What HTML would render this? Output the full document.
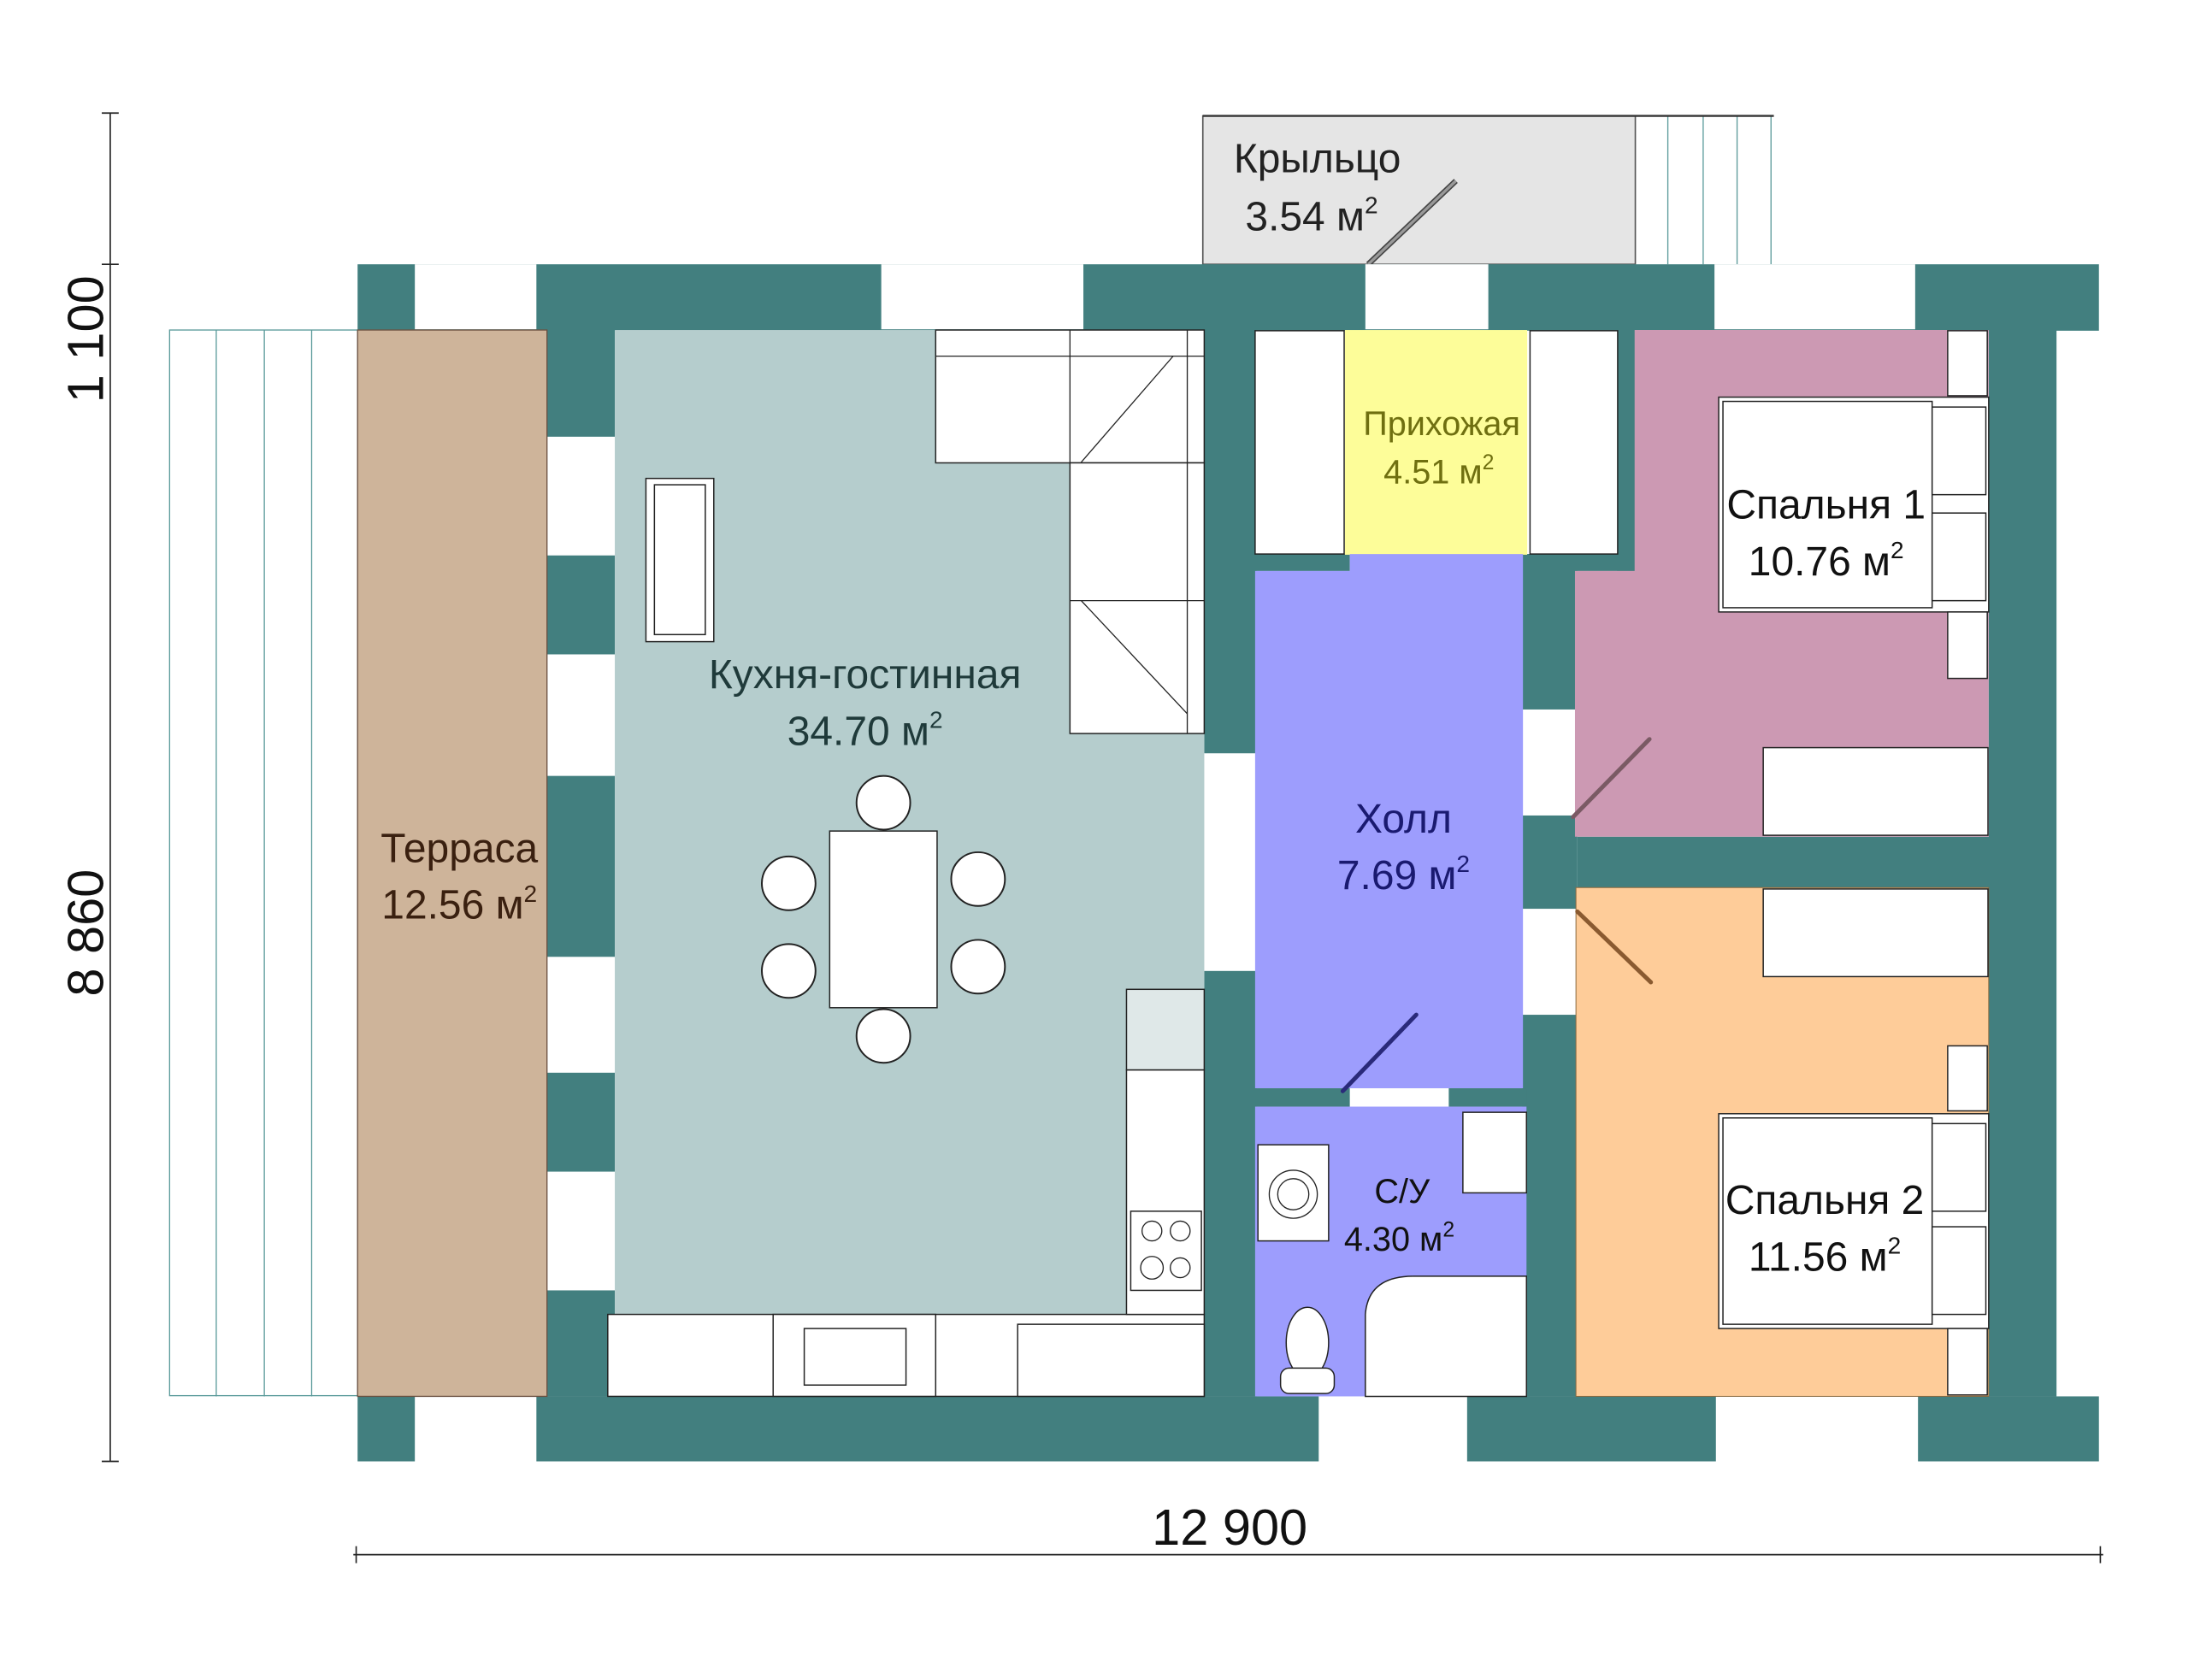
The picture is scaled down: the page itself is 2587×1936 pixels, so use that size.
<!DOCTYPE html>
<html><head><meta charset="utf-8"><style>
html,body{margin:0;padding:0;background:#fff;}
svg{display:block;}
text{font-family:"Liberation Sans",sans-serif;}
</style></head><body>
<svg width="2587" height="1936" viewBox="0 0 1565 1171" preserveAspectRatio="none" xmlns="http://www.w3.org/2000/svg">
<rect width="1565" height="1171" fill="#fff"/>
<g fill="none" stroke="#5a9a9a" stroke-width="0.8">
<rect x="120" y="233.5" width="133" height="754"/>
<line x1="153" y1="233.5" x2="153" y2="988"/><line x1="187" y1="233.5" x2="187" y2="988"/><line x1="220.5" y1="233.5" x2="220.5" y2="988"/>
</g>
<rect x="851" y="82" width="306" height="105" fill="#e5e5e5" stroke="#555" stroke-width="1"/>
<g fill="none" stroke="#5a9a9a" stroke-width="0.8">
<line x1="1157" y1="82" x2="1255" y2="82"/>
<line x1="1180" y1="82" x2="1180" y2="187"/><line x1="1205" y1="82" x2="1205" y2="187"/><line x1="1229" y1="82" x2="1229" y2="187"/><line x1="1253" y1="82" x2="1253" y2="187"/>
</g>
<line x1="851" y1="82" x2="1255" y2="82" stroke="#333" stroke-width="1.5"/>
<line x1="968" y1="187" x2="1030" y2="128" stroke="#444" stroke-width="4"/>
<line x1="968" y1="187" x2="1030" y2="128" stroke="#999" stroke-width="2"/>
<g fill="#427f7f">
<rect x="253" y="187" width="1232" height="47"/>
<rect x="253" y="988" width="1232" height="46"/>
<rect x="387" y="233" width="48" height="755"/>
<rect x="852" y="233" width="37" height="755"/>
<rect x="1077" y="392" width="39" height="596"/>
<rect x="1407" y="233" width="48" height="755"/>
<rect x="888" y="392" width="67" height="12"/>
<rect x="1077" y="392" width="80" height="12"/>
<rect x="1144" y="233" width="13" height="171"/>
<rect x="1116" y="592" width="292" height="36"/>
<rect x="888" y="770" width="192" height="13"/>
</g>
<g fill="#fff">
<rect x="293.5" y="187" width="86" height="46"/>
<rect x="623.5" y="187" width="143" height="46"/>
<rect x="966" y="187" width="87" height="46"/>
<rect x="1213" y="187" width="142" height="46"/>
<rect x="293.5" y="988" width="86" height="46"/>
<rect x="933" y="988" width="105" height="46"/>
<rect x="1214" y="988" width="143" height="46"/>
<rect x="387" y="309" width="48" height="84"/>
<rect x="387" y="463" width="48" height="86"/>
<rect x="387" y="677" width="48" height="82"/>
<rect x="387" y="829" width="48" height="84"/>
<rect x="852" y="533" width="37" height="154"/>
<rect x="1077" y="502" width="39" height="75"/>
<rect x="1077" y="643" width="39" height="75"/>
<rect x="955" y="770" width="70" height="13"/>
</g>
<rect x="253" y="233.5" width="134" height="754.5" fill="#ceb49a" stroke="#6b5040" stroke-width="0.8"/>
<rect x="435" y="233.5" width="417" height="697" fill="#b5cdcd"/>
<rect x="951.5" y="233.5" width="129" height="159" fill="#fdfd99"/>
<path d="M888 404 H955 V392 H1077.5 V770 H888 Z" fill="#9d9dfd"/>
<rect x="888" y="783" width="192" height="205" fill="#9d9dfd"/>
<path d="M1156.5 233.5 H1407 V592 H1114.3 V404 H1156.5 Z" fill="#cc99b3"/>
<rect x="1115" y="628" width="292" height="360" fill="#fecc99" stroke="#8a6a40" stroke-width="0.6"/>
<g fill="#fff" stroke="#222" stroke-width="0.9">
<rect x="888" y="234" width="63" height="158"/>
<rect x="1082.5" y="234" width="62" height="158"/>
<rect x="662" y="233.5" width="190" height="94"/>
<rect x="757" y="327.5" width="95" height="191.5"/>
<rect x="457" y="338.5" width="48" height="115.5"/>
<rect x="463" y="343" width="36" height="106"/>
<rect x="587" y="588" width="76" height="125"/>
<rect x="1216" y="281" width="191" height="152"/>
<rect x="1219" y="284" width="148" height="146"/>
<rect x="1367" y="288" width="38" height="62"/>
<rect x="1367" y="363" width="38" height="62"/>
<rect x="1378" y="234" width="28" height="46"/>
<rect x="1378" y="433" width="28" height="47"/>
<rect x="1247.5" y="529" width="159" height="62"/>
<rect x="1247.5" y="629" width="159" height="62"/>
<rect x="1216" y="788" width="191" height="152"/>
<rect x="1219" y="791" width="148" height="146"/>
<rect x="1367" y="795" width="38" height="62"/>
<rect x="1367" y="868" width="38" height="62"/>
<rect x="1378" y="740" width="28" height="46"/>
<rect x="1378" y="940" width="28" height="47"/>
<rect x="430" y="930" width="422" height="58"/>
<rect x="797" y="757" width="55" height="173"/>
<rect x="797" y="700" width="55" height="57" fill="#dfe8e8"/>
<rect x="800" y="857" width="50" height="56"/>
<rect x="547" y="930" width="115" height="58"/>
<rect x="569" y="940" width="72" height="40"/>
<rect x="720" y="937" width="132" height="51"/>
<rect x="1035" y="787" width="45" height="57"/>
<rect x="890" y="810" width="50" height="68"/>
<path d="M966 988 V930 Q968 903 1000 903 H1080 V988 Z"/>
<ellipse cx="925" cy="950" rx="15" ry="25"/>
<rect x="906" y="968" width="38" height="18" rx="6"/>
</g>
<g fill="none" stroke="#222" stroke-width="0.8">
<line x1="757" y1="233.5" x2="757" y2="327.5"/>
<line x1="662" y1="252" x2="852" y2="252"/>
<line x1="840" y1="233.5" x2="840" y2="519"/>
<line x1="830" y1="252" x2="765" y2="327"/>
<line x1="765" y1="425" x2="840" y2="505"/>
<line x1="757" y1="425" x2="852" y2="425"/>
<circle cx="815" cy="871" r="7"/><circle cx="835" cy="871" r="7"/><circle cx="815" cy="897" r="8"/><circle cx="835" cy="897" r="7"/>
<circle cx="915" cy="845" r="17"/><circle cx="915" cy="845" r="11"/>
</g>
<g fill="#fff" stroke="#222" stroke-width="1.2">
<circle cx="625" cy="568" r="19"/><circle cx="625" cy="733" r="19"/>
<circle cx="558" cy="625" r="19"/><circle cx="558" cy="687" r="19"/>
<circle cx="692" cy="622" r="19"/><circle cx="692" cy="684" r="19"/>
</g>
<g stroke-width="3" stroke-linecap="round">
<line x1="1113" y1="578" x2="1167" y2="523" stroke="#7a5a64"/>
<line x1="1116" y1="645" x2="1168" y2="695" stroke="#8a5a30"/>
<line x1="950" y1="772" x2="1002" y2="718" stroke="#2a2a7a"/>
</g>
<g stroke="#222" stroke-width="1" fill="none">
<line x1="78" y1="80" x2="78" y2="1034"/>
<line x1="72" y1="80" x2="84" y2="80"/><line x1="72" y1="187" x2="84" y2="187"/><line x1="72" y1="1034" x2="84" y2="1034"/>
<line x1="250" y1="1100" x2="1488" y2="1100"/>
<line x1="252" y1="1094" x2="252" y2="1106"/><line x1="1486" y1="1094" x2="1486" y2="1106"/>
</g>
<g font-size="36" fill="#111">
<text x="870" y="1093" text-anchor="middle">12 900</text>
<text transform="translate(73,240) rotate(-90)" text-anchor="middle">1 100</text>
<text transform="translate(73,660) rotate(-90)" text-anchor="middle">8 860</text>
</g>
<g font-size="29" text-anchor="middle">
<text x="612" y="487" fill="#1f3a3a">Кухня-гостинная</text>
<text x="612" y="527" fill="#1f3a3a">34.70 м<tspan font-size="17" dy="-12">2</tspan></text>
<text x="325" y="610" fill="#3a2010">Терраса</text>
<text x="325" y="650" fill="#3a2010">12.56 м<tspan font-size="17" dy="-12">2</tspan></text>
<text x="932" y="122" fill="#222">Крыльцо</text>
<text x="928" y="163" fill="#222">3.54 м<tspan font-size="17" dy="-12">2</tspan></text>
<text x="1020" y="308" font-size="24" fill="#6f6f10">Прихожая</text>
<text x="1018" y="342" font-size="24" fill="#6f6f10">4.51 м<tspan font-size="15" dy="-10">2</tspan></text>
<text x="993" y="589" fill="#1a1a70">Холл</text>
<text x="993" y="629" fill="#1a1a70">7.69 м<tspan font-size="17" dy="-12">2</tspan></text>
<text x="992" y="851" font-size="24" fill="#111">С/У</text>
<text x="990" y="885" font-size="24" fill="#111">4.30 м<tspan font-size="15" dy="-10">2</tspan></text>
<text x="1292" y="367" fill="#111">Спальня 1</text>
<text x="1292" y="407" fill="#111">10.76 м<tspan font-size="17" dy="-12">2</tspan></text>
<text x="1291" y="859" fill="#111">Спальня 2</text>
<text x="1291" y="899" fill="#111">11.56 м<tspan font-size="17" dy="-12">2</tspan></text>
</g>
</svg>
</body></html>
